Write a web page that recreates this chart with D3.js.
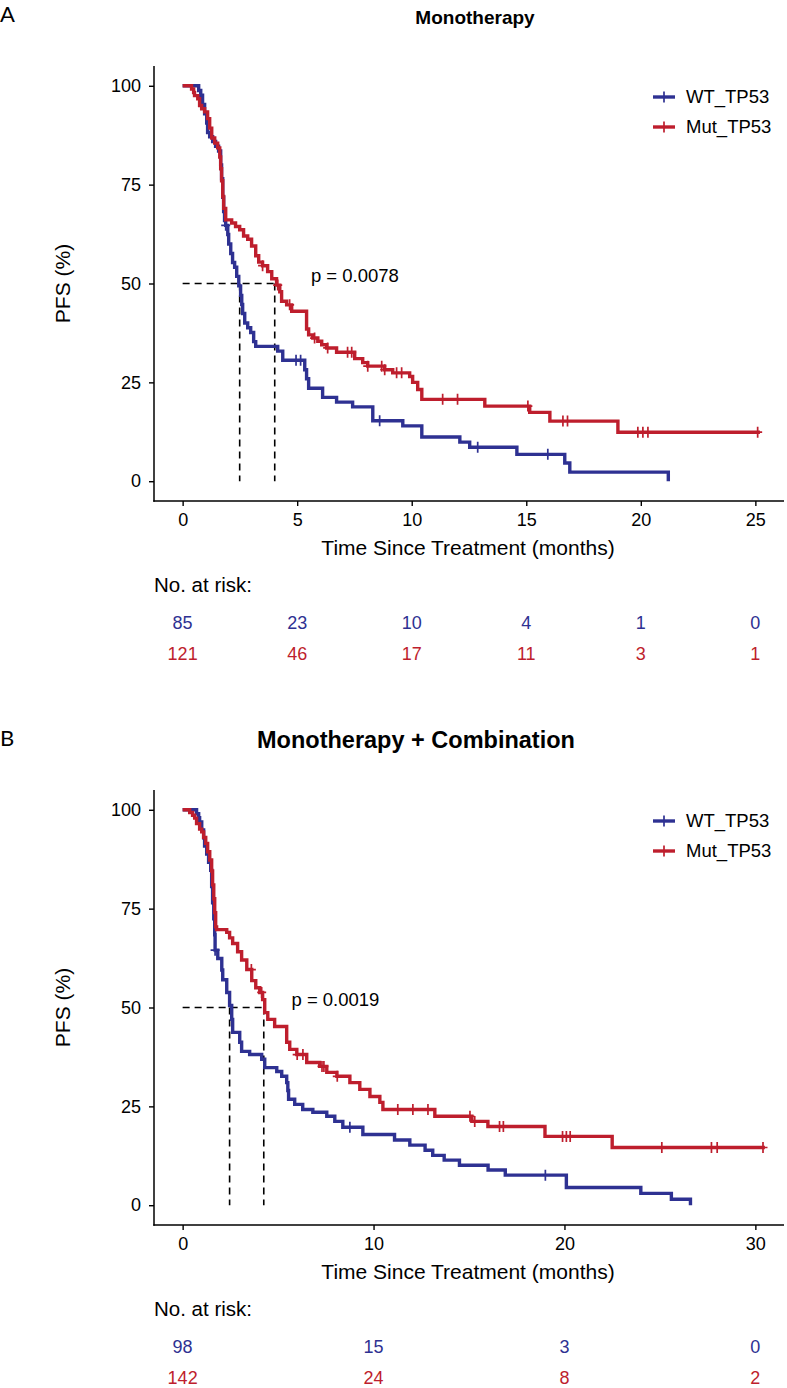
<!DOCTYPE html>
<html><head><meta charset="utf-8">
<script src="https://cdn.jsdelivr.net/npm/d3@7"></script>
<style>
body{margin:0;background:#fff}
svg{display:block}
text{font-family:'Liberation Sans',Arial,sans-serif;fill:#000}
</style>
</head><body>
<svg id="chart" width="787" height="1388"></svg>
<script>
// ---------- DATA ----------
const seriesNames = ["WT_TP53", "Mut_TP53"];
const yTicks = [0, 25, 50, 75, 100];

// Panel A: Monotherapy
const aXTicks = [0, 5, 10, 15, 20, 25];
const aWtTime = [0.70,0.79,0.87,0.96,1.05,1.09,1.18,1.31,1.44,1.57,1.66,1.70,1.75,1.79,1.83,1.88,1.97,2.01,2.10,2.18,2.27,2.36,2.45,2.53,2.58,2.62,2.71,2.84,2.97,3.10,3.19,4.15,4.37,5.33,5.41,5.50,6.11,6.72,7.42,8.30,9.61,10.44,12.10,12.53,14.59,16.68,16.90,21.2];
const aWtSurv = [98.8,97.6,95.3,92.9,90.6,88.2,87.1,85.9,84.7,83.5,80.0,76.5,71.8,68.2,65.9,64.7,62.4,60.0,57.6,55.3,54.1,51.8,49.4,47.0,44.7,42.4,40.0,38.8,37.6,35.3,34.1,32.9,30.6,28.2,25.9,23.5,21.2,20.0,18.8,15.3,14.0,11.2,9.9,8.6,6.8,4.6,2.3,0];
const aWtEnd = 21.2;
const aWtCensor = [1.88, 4.95, 5.15, 8.6, 12.88, 15.94];
const aMutTime = [0.39,0.48,0.52,0.66,0.74,0.83,0.96,1.09,1.18,1.27,1.40,1.53,1.62,1.66,1.70,1.75,1.79,1.88,2.14,2.31,2.49,2.66,2.84,3.01,3.19,3.32,3.49,3.71,3.89,4.10,4.24,4.32,4.54,4.76,5.41,5.50,5.68,5.90,6.07,6.29,6.72,7.51,7.86,8.08,8.82,9.17,9.91,10.04,10.26,10.44,13.19,15.15,16.03,19.00];
const aMutSurv = [99.2,98.3,97.5,96.7,95.0,94.2,93.4,91.7,89.3,86.8,85.5,84.3,82.0,79.0,76.0,72.0,69.0,66.1,65.3,64.4,63.6,62.0,61.2,59.5,57.0,55.4,54.5,53.0,51.2,49.6,47.9,45.5,44.6,43.0,38.5,37.0,36.2,35.4,34.5,33.7,32.6,31.0,30.0,29.1,28.2,27.4,26.5,25.0,23.2,20.7,19.0,17.4,15.2,12.4];
const aMutEnd = 25.2;
const aMutCensor = [3.49,4.15,4.67,5.76,6.33,7.2,7.38,8.08,8.69,8.82,9.34,9.56,11.35,12.0,15.07,16.6,16.8,19.87,20.09,20.31,25.1];
const aMedians = [2.49, 4.02];
const aPValue = "p = 0.0078";
const aPPos = [5.6, 50];
const aRiskWt = [85, 23, 10, 4, 1, 0];
const aRiskMut = [121, 46, 17, 11, 3, 1];

// Panel B: Monotherapy + Combination
const bXTicks = [0, 10, 20, 30];
const bWtTime = [0.73,0.84,0.89,1.0,1.1,1.15,1.26,1.36,1.47,1.52,1.57,1.63,1.68,1.70,1.84,2.05,2.10,2.31,2.46,2.57,2.62,2.99,3.09,3.51,4.14,4.30,4.93,5.19,5.45,5.51,5.55,5.87,6.29,6.82,7.55,7.97,8.39,9.44,11.1,11.9,12.7,13.1,13.7,14.5,16.0,16.9,20.1,24.0,25.6,26.6];
const bWtSurv = [99.0,98.0,96.9,94.9,92.9,90.8,88.8,86.7,84.7,80.6,76.5,72.4,68.4,64.5,62.4,59.5,57.0,53.8,50.5,47.0,43.7,41.2,38.9,38.1,36.9,34.8,33.8,32.6,31.0,29.0,26.8,25.5,24.2,23.5,22.5,21.2,19.7,17.9,16.5,15.2,13.9,12.6,11.4,10.1,8.9,7.6,4.5,3.0,1.5,0];
const bWtEnd = 26.6;
const bWtCensor = [1.70, 8.76, 19.0];
const bMutTime = [0.37,0.52,0.63,0.73,0.89,1.0,1.1,1.21,1.31,1.42,1.52,1.57,1.63,1.68,1.73,1.78,2.31,2.46,2.62,2.88,3.09,3.36,3.62,3.83,4.04,4.19,4.30,4.46,4.82,5.45,5.61,5.98,6.50,7.18,7.55,8.08,8.76,9.28,9.81,10.33,10.49,13.21,15.15,15.99,18.98,22.5];
const bMutSurv = [99.3,98.6,97.9,96.5,95.1,94.4,93.0,91.5,89.4,87.3,84.5,81.0,77.5,74.0,70.4,69.7,69.0,67.6,66.2,64.1,62.0,59.6,56.8,55.0,53.8,52.0,48.7,47.0,45.2,41.2,39.4,38.1,36.1,35.1,33.6,32.6,31.0,29.3,27.5,26.0,24.2,22.5,21.2,19.9,17.4,14.6];
const bMutEnd = 30.5;
const bMutCensor = [3.6,4.14,6.0,6.3,7.3,7.4,8.1,11.27,12.06,12.85,15.05,15.3,16.6,16.8,19.9,20.1,20.3,25.1,27.7,28.0,30.4];
const bMedians = [2.46, 4.25];
const bPValue = "p = 0.0019";
const bPPos = [5.7, 50];
const bRiskWt = [98, 15, 3, 0];
const bRiskMut = [142, 24, 8, 2];

// ---------- STYLE ----------
const colors = ["#2e3192", "#be1e2d"];
const svg = d3.select("#chart");
const FS = 18;

function drawPanel(cfg) {
  const g = svg.append("g").attr("transform", `translate(0,${cfg.dy})`);
  const x = d3.scaleLinear().domain(cfg.xDomain).range([154, 784]);
  const y = d3.scaleLinear().domain([-5, 105]).range([501, 66]);

  // panel letter
  g.append("text").attr("x", 0).attr("y", 22).style("font-family", "Lato, 'Open Sans', sans-serif")
    .style("font-size", "22px").text(cfg.letter);
  // title
  g.append("text").attr("x", cfg.titleX).attr("y", 24).attr("text-anchor", cfg.titleAnchor)
    .style("font-weight", "bold").style("font-size", cfg.titleSize + "px").text(cfg.title);

  // axes
  const yAxis = g.append("g").attr("transform", "translate(154,0)")
    .call(d3.axisLeft(y).tickValues(yTicks).tickSize(5).tickPadding(8));
  const xAxis = g.append("g").attr("transform", "translate(0,501)")
    .call(d3.axisBottom(x).tickValues(cfg.xTicks).tickSize(5).tickPadding(7));
  [yAxis, xAxis].forEach(a => {
    a.select(".domain").remove();
    a.selectAll(".tick line").attr("stroke", "#000").attr("stroke-width", 1.4);
    a.selectAll(".tick text").style("font-size", FS + "px").style("font-family", "'Liberation Sans',Arial,sans-serif").attr("fill", "#000");
  });
  g.append("line").attr("x1", 154).attr("x2", 154).attr("y1", 66).attr("y2", 501.7).attr("stroke", "#000").attr("stroke-width", 1.5);
  g.append("line").attr("x1", 153.3).attr("x2", 784).attr("y1", 501).attr("y2", 501).attr("stroke", "#000").attr("stroke-width", 1.5);

  // axis titles
  g.append("text").attr("transform", `translate(70,${y(50)}) rotate(-90)`).attr("text-anchor", "middle")
    .style("font-size", "21px").text("PFS (%)");
  g.append("text").attr("x", 468).attr("y", 555).attr("text-anchor", "middle")
    .style("font-size", "21px").text("Time Since Treatment (months)");

  // median lines
  const medMax = d3.max(cfg.medians);
  const dash = "7,5";
  g.append("line").attr("x1", x(0)).attr("x2", x(medMax)).attr("y1", y(50)).attr("y2", y(50))
    .attr("stroke", "#000").attr("stroke-width", 1.6).attr("stroke-dasharray", dash);
  cfg.medians.forEach(m => {
    g.append("line").attr("x1", x(m)).attr("x2", x(m)).attr("y1", y(50)).attr("y2", y(0))
      .attr("stroke", "#000").attr("stroke-width", 1.6).attr("stroke-dasharray", dash);
  });

  // curves
  const line = d3.line().x(d => x(d[0])).y(d => y(d[1])).curve(d3.curveStepAfter);
  cfg.series.forEach((s, i) => {
    const pts = [[0, 100]].concat(s.time.map((t, k) => [t, s.surv[k]]));
    const last = pts[pts.length - 1];
    if (last[0] < s.end) pts.push([s.end, last[1]]);
    g.append("path").attr("d", line(pts)).attr("fill", "none").attr("stroke", colors[i])
      .attr("stroke-width", 3.4).attr("stroke-linejoin", "miter");
    const survAt = t => { let v = 100; s.time.forEach((tt, k) => { if (tt <= t) v = s.surv[k]; }); return v; };
    s.censor.forEach(t => {
      const cx = x(t), cy = y(survAt(t));
      g.append("path").attr("d", `M${cx},${cy - 5.5}V${cy + 5.5}M${cx - 4.5},${cy}H${cx + 4.5}`)
        .attr("stroke", colors[i]).attr("stroke-width", 1.7);
    });
  });

  // p value
  g.append("text").attr("x", x(cfg.pPos[0])).attr("y", y(cfg.pPos[1])).attr("dy", "-0.1em")
    .style("font-size", "18.5px").text(cfg.pValue);

  // legend
  seriesNames.forEach((n, i) => {
    const ly = 97 + i * 30;
    g.append("line").attr("x1", 653).attr("x2", 675).attr("y1", ly).attr("y2", ly)
      .attr("stroke", colors[i]).attr("stroke-width", 3.4);
    g.append("path").attr("d", `M664,${ly - 5.5}V${ly + 5.5}M659.5,${ly}H668.5`).attr("stroke", colors[i]).attr("stroke-width", 1.7);
    g.append("text").attr("x", 686).attr("y", ly).attr("dy", "0.35em").style("font-size", "18.5px").text(n);
  });

  // risk table
  g.append("text").attr("x", 154).attr("y", 585).attr("dy", "0.35em").style("font-size", "20.5px").text("No. at risk:");
  [cfg.riskWt, cfg.riskMut].forEach((row, i) => {
    row.forEach((v, k) => {
      g.append("text").attr("x", x(cfg.xTicks[k])).attr("y", 623 + i * 31).attr("dy", "0.35em")
        .attr("text-anchor", "middle").style("font-size", FS + "px").style("fill", colors[i]).text(v);
    });
  });
}

drawPanel({dy: 0, letter: "A", title: "Monotherapy", titleX: 475, titleAnchor: "middle", titleSize: 19,
  xDomain: [-1.25, 26.25], xTicks: aXTicks,
  series: [{time: aWtTime, surv: aWtSurv, end: aWtEnd, censor: aWtCensor},
           {time: aMutTime, surv: aMutSurv, end: aMutEnd, censor: aMutCensor}],
  medians: aMedians, pValue: aPValue, pPos: aPPos, riskWt: aRiskWt, riskMut: aRiskMut});
drawPanel({dy: 724, letter: "B", title: "Monotherapy + Combination", titleX: 257, titleAnchor: "start", titleSize: 23.5,
  xDomain: [-1.5, 31.5], xTicks: bXTicks,
  series: [{time: bWtTime, surv: bWtSurv, end: bWtEnd, censor: bWtCensor},
           {time: bMutTime, surv: bMutSurv, end: bMutEnd, censor: bMutCensor}],
  medians: bMedians, pValue: bPValue, pPos: bPPos, riskWt: bRiskWt, riskMut: bRiskMut});
</script>
</body></html>
